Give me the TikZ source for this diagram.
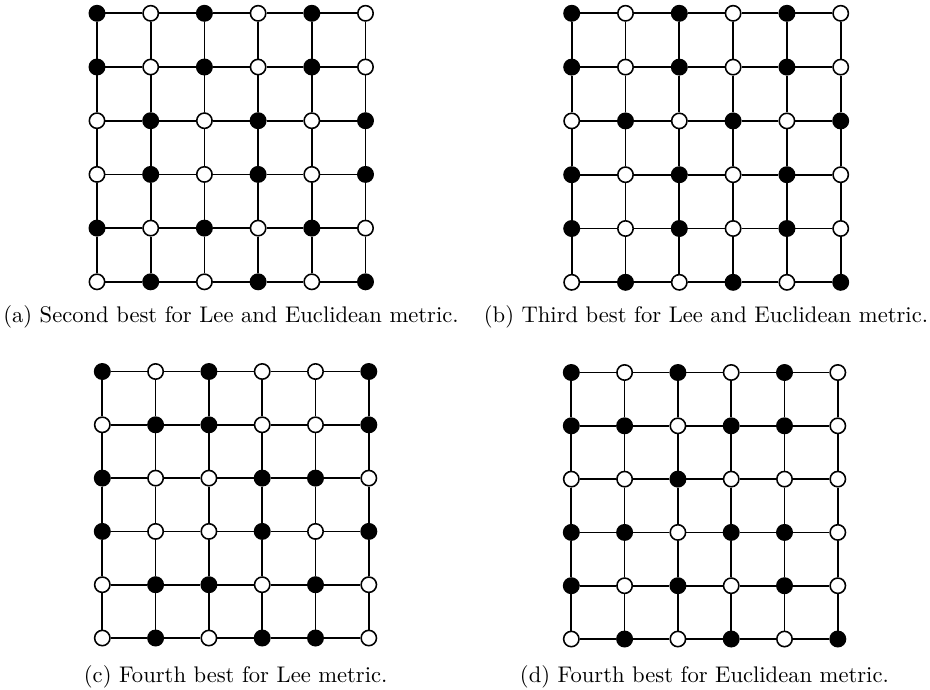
\documentclass[tikz,border=0pt]{standalone}
\usetikzlibrary{calc}
\tikzset{
  vtx/.style={circle, draw=black, line width=0.7pt, inner sep=0pt, minimum size=6.8pt},
  v0/.style={vtx, fill=white},
  v1/.style={vtx, fill=black},
  gridline/.style={draw=black, line width=0.75pt},
  captext/.style={anchor=base, inner sep=0pt, font=\normalsize}
}
\newcommand\drawgrid[5]{%
  \foreach \row [count=\r] in {#5} {
    \foreach \v [count=\c] in \row {
      \node[v\v] (#1-\r-\c) at ({#2+(\c-1)*#4},{#3+(\r-1)*#4}) {};
    }
  }
  \foreach \r in {1,...,6} {
    \foreach \c [evaluate=\c as \n using int(\c+1)] in {1,...,5} {
      \draw[gridline] (#1-\r-\c) -- (#1-\r-\n);
      \draw[gridline] (#1-\c-\r) -- (#1-\n-\r);
    }
  }
}
\begin{document}
\begin{tikzpicture}[x=0.4425pt, y=-0.4425pt]
\useasboundingbox (0,0) rectangle (930,689);
\drawgrid{a}{97}{13.3}{53.7}{{1,0,1,0,1,0},{1,0,1,0,1,0},{0,1,0,1,0,1},{0,1,0,1,0,1},{1,0,1,0,1,0},{0,1,0,1,0,1}}
\drawgrid{b}{571.7}{13.3}{53.8}{{1,0,1,0,1,0},{1,0,1,0,1,0},{0,1,0,1,0,1},{1,0,1,0,1,0},{1,0,1,0,1,0},{0,1,0,1,0,1}}
\drawgrid{c}{102.3}{371.5}{53.3}{{1,0,1,0,0,1},{0,1,1,0,0,1},{1,0,0,1,1,0},{1,0,0,1,0,1},{0,1,1,0,1,0},{0,1,0,1,1,0}}
\drawgrid{d}{571.3}{372.5}{53.3}{{1,0,1,0,1,0},{1,1,0,1,1,0},{0,0,1,0,0,0},{1,1,0,1,1,0},{1,0,1,0,1,0},{0,1,0,1,0,1}}
\node[captext] (capa) at (231,322) {(a) Second best for Lee and Euclidean metric.};
\node[captext] (capb) at (706,322) {(b) Third best for Lee and Euclidean metric.};
\node[captext] (capc) at (235.7,682) {(c) Fourth best for Lee metric.};
\node[captext] (capd) at (704.4,682) {(d) Fourth best for Euclidean metric.};
\end{tikzpicture}
\end{document}
